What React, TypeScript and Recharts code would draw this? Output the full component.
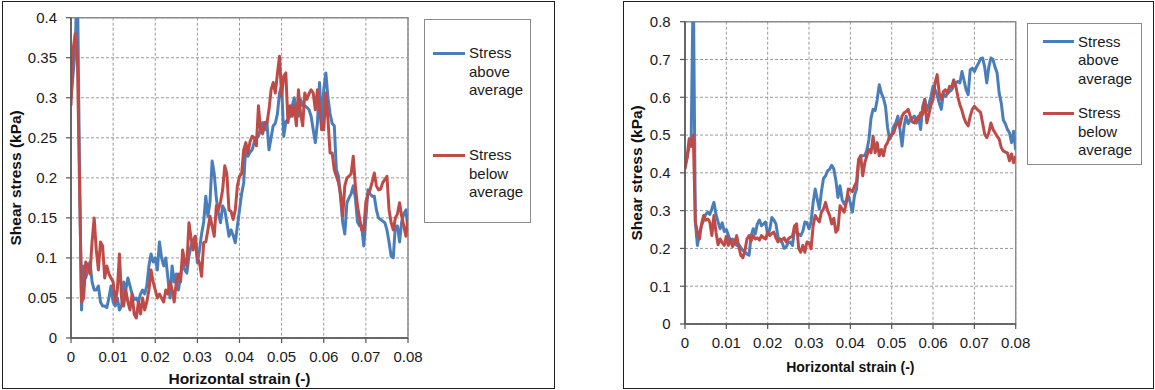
import React from 'react';
import { LineChart, Line, XAxis, YAxis, CartesianGrid, ReferenceArea, Legend, Label } from 'recharts';

// Strain is sampled every 0.0005 from 0 to 0.08 (161 readings per series).
const STRAIN_STEP = 0.0005;

// Left test: shear stress (kPa)
const leftAbove: number[] = [
  0.30, 0.33, 0.36, 0.46, 0.22, 0.035, 0.09, 0.075, 0.085, 0.095,
  0.07, 0.06, 0.06, 0.065, 0.045, 0.04, 0.04, 0.038, 0.05, 0.065,
  0.045, 0.04, 0.05, 0.035, 0.04, 0.07, 0.06, 0.075, 0.065, 0.055,
  0.048, 0.05, 0.045, 0.055, 0.06, 0.055, 0.065, 0.09, 0.105, 0.095,
  0.10, 0.085, 0.12, 0.10, 0.09, 0.10, 0.075, 0.05, 0.09, 0.07,
  0.08, 0.06, 0.077, 0.094, 0.085, 0.081, 0.102, 0.115, 0.122, 0.127,
  0.094, 0.11, 0.13, 0.145, 0.177, 0.152, 0.17, 0.221, 0.205, 0.175,
  0.155, 0.144, 0.165, 0.16, 0.144, 0.127, 0.135, 0.128, 0.119, 0.14,
  0.16, 0.18, 0.194, 0.24, 0.227, 0.232, 0.235, 0.245, 0.25, 0.252,
  0.26, 0.269, 0.26, 0.27, 0.235, 0.25, 0.265, 0.268, 0.28, 0.306,
  0.315, 0.252, 0.27, 0.273, 0.277, 0.29, 0.30, 0.285, 0.277, 0.298,
  0.29, 0.29, 0.288, 0.285, 0.277, 0.26, 0.244, 0.269, 0.319, 0.265,
  0.31, 0.331, 0.30, 0.28, 0.268, 0.265, 0.21, 0.202, 0.175, 0.144,
  0.13, 0.169, 0.175, 0.18, 0.19, 0.175, 0.145, 0.14, 0.14, 0.115,
  0.15, 0.185, 0.18, 0.177, 0.177, 0.16, 0.15, 0.148, 0.146, 0.144,
  0.135, 0.12, 0.102, 0.10, 0.14, 0.14, 0.12, 0.145, 0.155, 0.16,
  0.135,
];

const leftBelow: number[] = [
  0.29, 0.36, 0.38, 0.355, 0.20, 0.045, 0.05, 0.095, 0.09, 0.08,
  0.12, 0.15, 0.11, 0.085, 0.12, 0.115, 0.075, 0.09, 0.08, 0.075,
  0.07, 0.045, 0.06, 0.105, 0.05, 0.04, 0.06, 0.045, 0.035, 0.055,
  0.03, 0.025, 0.045, 0.03, 0.05, 0.035, 0.045, 0.06, 0.085, 0.07,
  0.06, 0.05, 0.055, 0.05, 0.045, 0.06, 0.055, 0.07, 0.06, 0.045,
  0.07, 0.08, 0.07, 0.11, 0.095, 0.09, 0.144, 0.125, 0.11, 0.127,
  0.10, 0.094, 0.077, 0.119, 0.12, 0.135, 0.152, 0.14, 0.127, 0.165,
  0.16, 0.17, 0.185, 0.215, 0.205, 0.16, 0.158, 0.148, 0.16, 0.19,
  0.202, 0.205, 0.235, 0.244, 0.231, 0.245, 0.252, 0.25, 0.24, 0.29,
  0.26, 0.255, 0.269, 0.268, 0.285, 0.31, 0.319, 0.306, 0.33, 0.352,
  0.302, 0.327, 0.331, 0.269, 0.29, 0.277, 0.29, 0.265, 0.31, 0.28,
  0.265, 0.306, 0.298, 0.305, 0.31, 0.306, 0.285, 0.31, 0.29, 0.26,
  0.26, 0.306, 0.273, 0.231, 0.231, 0.21, 0.202, 0.194, 0.18, 0.152,
  0.19, 0.2, 0.202, 0.205, 0.227, 0.19, 0.165, 0.15, 0.135, 0.135,
  0.17, 0.18, 0.185, 0.195, 0.206, 0.19, 0.185, 0.186, 0.194, 0.198,
  0.202, 0.16, 0.144, 0.135, 0.15, 0.155, 0.169, 0.152, 0.14, 0.127,
  0.148,
];

// Right test: shear stress (kPa)
const rightAbove: number[] = [
  0.42, 0.44, 0.47, 0.49, 0.92, 0.27, 0.208, 0.24, 0.26, 0.275,
  0.29, 0.296, 0.29, 0.305, 0.322, 0.29, 0.27, 0.252, 0.268, 0.245,
  0.25, 0.235, 0.217, 0.225, 0.218, 0.208, 0.21, 0.202, 0.195, 0.19,
  0.185, 0.182, 0.234, 0.252, 0.238, 0.265, 0.275, 0.26, 0.265, 0.27,
  0.236, 0.25, 0.282, 0.275, 0.265, 0.23, 0.222, 0.215, 0.2, 0.205,
  0.215, 0.217, 0.208, 0.252, 0.243, 0.238, 0.234, 0.245, 0.27, 0.268,
  0.252, 0.27, 0.322, 0.357, 0.33, 0.304, 0.35, 0.385, 0.392, 0.405,
  0.41, 0.42, 0.41, 0.38, 0.335, 0.366, 0.33, 0.318, 0.325, 0.34,
  0.32, 0.296, 0.34, 0.357, 0.43, 0.445, 0.445, 0.445, 0.46, 0.489,
  0.545, 0.568, 0.565, 0.594, 0.633, 0.611, 0.598, 0.576, 0.52, 0.489,
  0.5, 0.524, 0.532, 0.55, 0.515, 0.471, 0.524, 0.55, 0.53, 0.54,
  0.545, 0.55, 0.532, 0.55, 0.515, 0.576, 0.594, 0.565, 0.58, 0.602,
  0.629, 0.62, 0.605, 0.585, 0.568, 0.611, 0.602, 0.61, 0.615, 0.62,
  0.629, 0.638, 0.642, 0.638, 0.668, 0.645, 0.62, 0.607, 0.673, 0.677,
  0.668, 0.68, 0.69, 0.702, 0.704, 0.68, 0.638, 0.68, 0.704, 0.7,
  0.68, 0.664, 0.611, 0.585, 0.54, 0.53, 0.515, 0.506, 0.48, 0.51,
  0.46,
];

const rightBelow: number[] = [
  0.41, 0.44, 0.49, 0.47, 0.5, 0.27, 0.243, 0.225, 0.265, 0.287,
  0.275, 0.278, 0.27, 0.234, 0.287, 0.243, 0.21, 0.225, 0.215, 0.208,
  0.232, 0.208, 0.225, 0.205, 0.215, 0.234, 0.205, 0.182, 0.175, 0.195,
  0.225, 0.234, 0.22, 0.234, 0.225, 0.228, 0.222, 0.234, 0.228, 0.225,
  0.243, 0.234, 0.24, 0.243, 0.228, 0.217, 0.225, 0.222, 0.228, 0.217,
  0.225, 0.23, 0.232, 0.26, 0.265, 0.2, 0.19, 0.208, 0.19, 0.217,
  0.215, 0.199, 0.26, 0.287, 0.278, 0.27, 0.296, 0.304, 0.322, 0.3,
  0.287, 0.265, 0.28, 0.243, 0.25, 0.313, 0.304, 0.296, 0.32, 0.357,
  0.355, 0.35, 0.365, 0.375, 0.436, 0.445, 0.392, 0.427, 0.445, 0.462,
  0.453, 0.497, 0.453, 0.48, 0.445, 0.462, 0.445, 0.471, 0.48, 0.497,
  0.5, 0.506, 0.524, 0.532, 0.524, 0.55, 0.559, 0.562, 0.568, 0.55,
  0.535, 0.532, 0.545, 0.54, 0.559, 0.555, 0.594, 0.532, 0.555, 0.58,
  0.594, 0.638, 0.66, 0.611, 0.594, 0.615, 0.62, 0.611, 0.629, 0.627,
  0.646, 0.63, 0.602, 0.58, 0.565, 0.545, 0.532, 0.524, 0.55, 0.568,
  0.576, 0.57, 0.565, 0.56, 0.532, 0.502, 0.493, 0.506, 0.532, 0.515,
  0.506, 0.497, 0.489, 0.467, 0.458, 0.455, 0.453, 0.432, 0.45, 0.427,
  0.445,
];

const xTicks = [0, 0.01, 0.02, 0.03, 0.04, 0.05, 0.06, 0.07, 0.08];
const leftYTicks = [0, 0.05, 0.1, 0.15, 0.2, 0.25, 0.3, 0.35, 0.4];
const rightYTicks = [0, 0.1, 0.2, 0.3, 0.4, 0.5, 0.6, 0.7, 0.8];

const seriesList = [
  { key: 'above', name: 'Stress above average', color: '#4A7EBB' },
  { key: 'below', name: 'Stress below average', color: '#BE4B48' },
];

const X_TITLE = 'Horizontal strain (-)';
const Y_TITLE = 'Shear stress (kPa)';
const FONT = '"Liberation Sans", Arial, sans-serif';

type Row = { strain: number; above: number; below: number };

function buildRows(above: number[], below: number[]): Row[] {
  const n = Math.min(above.length, below.length);
  const rows: Row[] = [];
  for (let i = 0; i < n; i++) {
    rows.push({ strain: +(i * STRAIN_STEP).toFixed(4), above: above[i], below: below[i] });
  }
  return rows;
}

const fmt = (v: number) => String(+Number(v).toFixed(2));

type LegendGeom = {
  left: number; top: number; width: number; height: number;
  lineX: number; lineW: number; textX: number; firstY: number; gap: number; lineH: number;
};

type PanelProps = {
  rows: Row[];
  yTicks: number[];
  yMax: number;
  left: number; top: number; width: number; height: number;
  margin: { top: number; right: number; left: number; bottom: number };
  yAxisWidth: number; xAxisHeight: number;
  xTickMargin: number; yTickMargin: number;
  xTitleY: number; xTitleSize: number;
  yTitleX: number; yTitleSize: number;
  legend: LegendGeom;
};

function makeLegend(g: LegendGeom) {
  return (props: any) => {
    const payload: any[] = props && props.payload && props.payload.length
      ? props.payload
      : seriesList.map((s) => ({ value: s.name, color: s.color }));
    return (
      <div style={{ position: 'relative', width: g.width, height: g.height, boxSizing: 'border-box', border: '1px solid #8a8a8a', background: '#fff', fontFamily: FONT, fontSize: 15, color: '#1a1a1a' }}>
        {payload.map((entry, i) => {
          const y0 = g.firstY + i * g.gap;
          const words = String(entry.value).split(' ');
          return (
            <React.Fragment key={String(entry.value)}>
              <div style={{ position: 'absolute', left: g.lineX, top: y0 - 1.5, width: g.lineW, height: 3, background: entry.color }} />
              {words.map((w, j) => (
                <div key={j} style={{ position: 'absolute', left: g.textX, top: y0 + j * g.lineH - 9, height: 18, lineHeight: '18px', whiteSpace: 'nowrap' }}>{w}</div>
              ))}
            </React.Fragment>
          );
        })}
      </div>
    );
  };
}

function Panel(p: PanelProps) {
  const plotTop = p.margin.top;
  const plotH = p.height - p.margin.top - p.margin.bottom - p.xAxisHeight;
  const tickStyle = { fontSize: 15, fill: '#1a1a1a', fontFamily: FONT };
  return (
    <div style={{ position: 'absolute', left: p.left, top: p.top, width: p.width, height: p.height }}>
      <LineChart width={p.width} height={p.height} data={p.rows} margin={p.margin}>
        <CartesianGrid stroke="#9a9a9a" strokeDasharray="3 2" strokeWidth={1} />
        <ReferenceArea x1={0} x2={0.08} y1={0} y2={p.yMax} fill="none" stroke="#8c8c8c" strokeWidth={1.5} ifOverflow="visible" />
        <XAxis
          dataKey="strain"
          type="number"
          domain={[0, 0.08]}
          ticks={xTicks}
          allowDataOverflow
          height={p.xAxisHeight}
          tickSize={5}
          tickMargin={p.xTickMargin}
          tickFormatter={fmt}
          tick={tickStyle}
          stroke="#555"
          axisLine={{ stroke: '#555', strokeWidth: 1.5 }}
          tickLine={{ stroke: '#555', strokeWidth: 1.2 }}
          interval={0}
        >
          <Label
            content={(lp: any) => {
              const vb = lp.viewBox || {};
              const cx = (vb.x ?? p.margin.left + p.yAxisWidth) + (vb.width ?? 0) / 2;
              return (
                <text x={cx} y={p.xTitleY} textAnchor="middle" dominantBaseline="central" fontFamily={FONT} fontWeight="bold" fontSize={p.xTitleSize} fill="#111">
                  {X_TITLE}
                </text>
              );
            }}
          />
        </XAxis>
        <YAxis
          type="number"
          domain={[0, p.yMax]}
          ticks={p.yTicks}
          allowDataOverflow
          width={p.yAxisWidth}
          tickSize={5}
          tickMargin={p.yTickMargin}
          tickFormatter={fmt}
          tick={tickStyle}
          stroke="#555"
          axisLine={{ stroke: '#555', strokeWidth: 1.5 }}
          tickLine={{ stroke: '#555', strokeWidth: 1.2 }}
          interval={0}
        >
          <Label
            content={() => {
              const cy = plotTop + plotH / 2;
              return (
                <text x={p.yTitleX} y={cy} transform={`rotate(-90 ${p.yTitleX} ${cy})`} textAnchor="middle" dominantBaseline="central" fontFamily={FONT} fontWeight="bold" fontSize={p.yTitleSize} fill="#111">
                  {Y_TITLE}
                </text>
              );
            }}
          />
        </YAxis>
        <Legend
          layout="horizontal"
          verticalAlign="middle"
          align="center"
          width={p.legend.width}
          height={p.legend.height}
          wrapperStyle={{ left: p.legend.left, top: p.legend.top, width: p.legend.width, height: p.legend.height }}
          content={makeLegend(p.legend)}
        />
        {seriesList.map((s) => (
          <Line
            key={s.key}
            type="linear"
            dataKey={s.key}
            name={s.name}
            stroke={s.color}
            strokeWidth={3}
            strokeLinejoin="round"
            dot={false}
            activeDot={false}
            isAnimationActive={false}
          />
        ))}
      </LineChart>
    </div>
  );
}

const leftRows = buildRows(leftAbove, leftBelow);
const rightRows = buildRows(rightAbove, rightBelow);

export default function App() {
  return (
    <div style={{ position: 'absolute', left: 0, top: 0, width: 1155, height: 390, background: '#fff', overflow: 'hidden' }}>
      <div style={{ position: 'absolute', left: 2, top: 1, width: 553, height: 388, boxSizing: 'border-box', border: '1.6px solid #1e1e1e' }} />
      <div style={{ position: 'absolute', left: 623, top: 1, width: 531, height: 388, boxSizing: 'border-box', border: '1.6px solid #1e1e1e' }} />
      <Panel
        rows={leftRows}
        yTicks={leftYTicks}
        yMax={0.4}
        left={3}
        top={2}
        width={551}
        height={386}
        margin={{ top: 15.7, right: 146, left: 0, bottom: 0 }}
        yAxisWidth={68}
        xAxisHeight={50}
        xTickMargin={8.7}
        yTickMargin={9}
        xTitleY={376}
        xTitleSize={15.5}
        yTitleX={13}
        yTitleSize={15.5}
        legend={{ left: 421, top: 17, width: 107, height: 204, lineX: 8, lineW: 32, textX: 44, firstY: 33, gap: 102, lineH: 18.7 }}
      />
      <Panel
        rows={rightRows}
        yTicks={rightYTicks}
        yMax={0.8}
        left={624}
        top={2}
        width={529}
        height={386}
        margin={{ top: 19.7, right: 137.3, left: 0, bottom: 0 }}
        yAxisWidth={61}
        xAxisHeight={64}
        xTickMargin={8.4}
        yTickMargin={9.3}
        xTitleY={365}
        xTitleSize={14}
        yTitleX={13}
        yTitleSize={15.5}
        legend={{ left: 403, top: 20.7, width: 115, height: 142, lineX: 15, lineW: 31, textX: 50, firstY: 18, gap: 71.5, lineH: 18.5 }}
      />
    </div>
  );
}
